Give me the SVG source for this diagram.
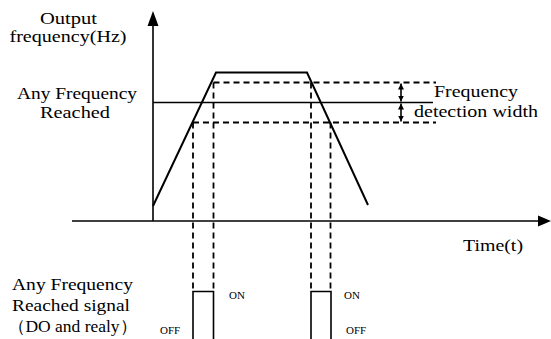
<svg xmlns="http://www.w3.org/2000/svg" width="551" height="339" viewBox="0 0 551 339">
<defs>
<style>
text{font-family:'Liberation Serif','DejaVu Serif','Times New Roman',serif;fill:#000}
.t{font-size:17px}
.s{font-size:11px}
.ln{stroke:#000;stroke-width:1.6;fill:none}
.rp{stroke:#000;stroke-width:2;fill:none}
.ds{stroke:#000;stroke-width:1.8;fill:none;stroke-dasharray:6 4}
</style>
<marker id="sa" markerWidth="6" markerHeight="6" refX="6" refY="3" orient="auto-start-reverse" markerUnits="userSpaceOnUse">
<path d="M0,0 L6,3 L0,6 Z" fill="#000"/>
</marker>
</defs>
<rect width="551" height="339" fill="#fff"/>
<g id="axes">
<line class="ln" x1="153" y1="221" x2="153" y2="24"/>
<path d="M147.5,26 L153,11 L158.5,26 Z" fill="#000"/>
<line class="ln" x1="72" y1="221" x2="540" y2="221"/>
<path d="M538,215.5 L551,221 L538,226.5 Z" fill="#000"/>
</g>
<g id="connectors">
<path class="rp" d="M153,206 L216,72.5 L307,72.5 L368,205"/>
<line class="ln" x1="153" y1="102.5" x2="433" y2="102.5"/>
<line class="ds" x1="213.5" y1="82.5" x2="436" y2="82.5"/>
<line class="ds" x1="193" y1="122.5" x2="436" y2="122.5"/>
<line class="ds" x1="193" y1="122.5" x2="193" y2="291"/>
<line class="ds" x1="213.5" y1="82.5" x2="213.5" y2="291"/>
<line class="ds" x1="311" y1="82.5" x2="311" y2="291"/>
<line class="ds" x1="330.5" y1="122.5" x2="330.5" y2="291"/>
<path class="ln" d="M193,339 V291.5 H213.5 V339"/>
<path class="ln" d="M311,339 V291.5 H331 V339"/>
<line class="ln" x1="401" y1="83.5" x2="401" y2="101.5" marker-start="url(#sa)" marker-end="url(#sa)"/>
<line class="ln" x1="401" y1="103.5" x2="401" y2="121.5" marker-start="url(#sa)" marker-end="url(#sa)"/>
</g>
<g id="label-output">
<text class="t" x="40" y="24" textLength="57" lengthAdjust="spacingAndGlyphs">Output</text>
<text class="t" x="9.5" y="42" textLength="117" lengthAdjust="spacingAndGlyphs">frequency(Hz)</text>
</g>
<g id="label-reached">
<text class="t" x="17" y="99" textLength="120" lengthAdjust="spacingAndGlyphs">Any Frequency</text>
<text class="t" x="40" y="118" textLength="70" lengthAdjust="spacingAndGlyphs">Reached</text>
</g>
<g id="label-width">
<text class="t" x="434" y="97" textLength="84" lengthAdjust="spacingAndGlyphs">Frequency</text>
<text class="t" x="414" y="117" textLength="124" lengthAdjust="spacingAndGlyphs">detection width</text>
</g>
<g id="label-time">
<text class="t" x="463" y="251" textLength="60" lengthAdjust="spacingAndGlyphs">Time(t)</text>
</g>
<g id="label-signal">
<text class="t" x="12" y="290" textLength="121" lengthAdjust="spacingAndGlyphs">Any Frequency</text>
<text class="t" x="12" y="311" textLength="118" lengthAdjust="spacingAndGlyphs">Reached signal</text>
<text class="t" x="8" y="332" textLength="129" lengthAdjust="spacingAndGlyphs">（DO and realy）</text>
</g>
<g id="pulse-labels">
<text class="s" x="229" y="299">ON</text>
<text class="s" x="160" y="334">OFF</text>
<text class="s" x="344" y="299">ON</text>
<text class="s" x="346" y="334">OFF</text>
</g>
</svg>
